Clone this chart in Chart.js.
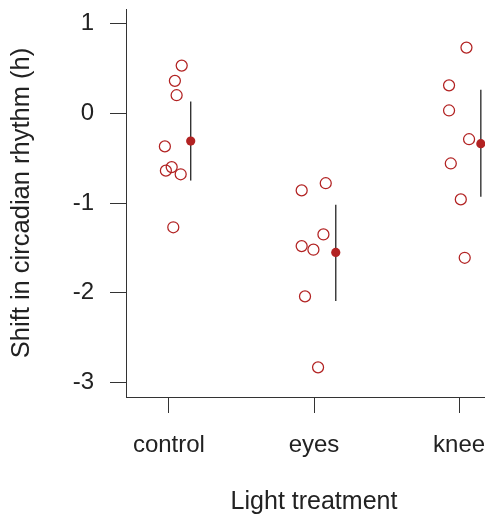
<!DOCTYPE html>
<html>
<head>
<meta charset="utf-8">
<script src="https://cdn.jsdelivr.net/npm/chart.js@4"></script>
<style>
  html, body { margin: 0; padding: 0; background: #fff; overflow: hidden; }
  #wrap { width: 520px; height: 515px; }
</style>
</head>
<body>
<div id="wrap"><canvas id="c" width="520" height="515"></canvas></div>
<script>
// Treatment groups and the measured shifts (hours) for each subject
const categories = ['control', 'eyes', 'knee'];
const controlShift = [0.53, 0.36, 0.20, -0.37, -0.60, -0.64, -0.68, -1.27];
const eyesShift    = [-0.78, -0.86, -1.35, -1.48, -1.52, -2.04, -2.83];
const kneeShift    = [0.73, 0.31, 0.03, -0.29, -0.56, -0.96, -1.61];

// Horizontal jitter applied to each observation (category units)
const controlJitter = [0.088, 0.041, 0.053, -0.028, 0.019, -0.021, 0.081, 0.030];
const eyesJitter    = [0.081, -0.085, 0.065, -0.085, -0.004, -0.062, 0.028];
const kneeJitter    = [0.051, -0.069, -0.069, 0.069, -0.057, 0.012, 0.039];

// Group means with lower / upper interval limits
const groupMean  = [-0.31, -1.55, -0.34];
const groupLower = [-0.75, -2.09, -0.93];
const groupUpper = [0.13, -1.02, 0.26];

const yTicks = [-3, -2, -1, 0, 1];
const xTicks = [1, 2, 3];

const MEAN_OFFSET = 0.15;
const RED = '#b22222';
const INK = '#222';
const AXIS = '#333';

const shifts = [controlShift, eyesShift, kneeShift];
const jitters = [controlJitter, eyesJitter, kneeJitter];

const observations = [];
shifts.forEach((vals, g) => {
  vals.forEach((v, i) => observations.push({ x: g + 1 + jitters[g][i], y: v }));
});

const intervalSets = categories.map((name, g) => ({
  type: 'line',
  label: name + ' interval',
  data: [
    { x: g + 1 + MEAN_OFFSET, y: groupLower[g] },
    { x: g + 1 + MEAN_OFFSET, y: groupUpper[g] }
  ],
  borderColor: AXIS,
  borderWidth: 1.4,
  pointRadius: 0,
  showLine: true,
  fill: false,
  order: 1
}));

const meanPoints = groupMean.map((m, g) => ({ x: g + 1 + MEAN_OFFSET, y: m }));

const tickFont = { family: '"Liberation Sans", Arial, sans-serif', size: 24 };

// Keep the plot frame fixed: no extra room reserved for edge labels
function noEdgePadding(scale) {
  scale.paddingTop = 0;
  scale.paddingBottom = 0;
  scale.paddingLeft = 0;
  scale.paddingRight = 0;
}

new Chart(document.getElementById('c'), {
  type: 'scatter',
  data: {
    datasets: [
      {
        label: 'mean',
        data: meanPoints,
        pointStyle: 'circle',
        pointRadius: 4.6,
        backgroundColor: RED,
        borderColor: RED,
        borderWidth: 0,
        order: 0
      },
      ...intervalSets,
      {
        label: 'observations',
        data: observations,
        pointStyle: 'circle',
        pointRadius: 5.5,
        backgroundColor: 'rgba(0,0,0,0)',
        borderColor: RED,
        borderWidth: 1.25,
        order: 2
      }
    ]
  },
  options: {
    responsive: false,
    animation: false,
    devicePixelRatio: 1,
    layout: { padding: { top: 9, right: 18, bottom: 0, left: 0 } },
    plugins: {
      legend: { display: false },
      tooltip: { enabled: false }
    },
    scales: {
      x: {
        type: 'linear',
        min: 0.704,
        max: 3.296,
        afterBuildTicks: (scale) => { scale.ticks = xTicks.map(v => ({ value: v })); },
        afterFit: (scale) => { scale.height = 118; noEdgePadding(scale); },
        ticks: {
          font: tickFont,
          color: INK,
          padding: 18,
          maxRotation: 0,
          autoSkip: false,
          callback: (v) => categories[v - 1]
        },
        grid: {
          display: true,
          drawOnChartArea: false,
          drawTicks: true,
          tickLength: 16,
          color: AXIS,
          lineWidth: 1
        },
        border: { display: true, color: AXIS, width: 1 },
        title: {
          display: true,
          text: 'Light treatment',
          color: INK,
          font: { family: '"Liberation Sans", Arial, sans-serif', size: 25, lineHeight: 1 },
          padding: { top: 0, bottom: 0 }
        }
      },
      y: {
        type: 'linear',
        min: -3.16,
        max: 1.16,
        afterBuildTicks: (scale) => { scale.ticks = yTicks.map(v => ({ value: v })); },
        afterFit: (scale) => { scale.width = 126; noEdgePadding(scale); },
        ticks: {
          font: tickFont,
          color: INK,
          padding: 16,
          callback: (v) => String(v)
        },
        grid: {
          display: true,
          drawOnChartArea: false,
          drawTicks: true,
          tickLength: 16,
          color: AXIS,
          lineWidth: 1
        },
        border: { display: true, color: AXIS, width: 1 },
        title: {
          display: true,
          text: 'Shift in circadian rhythm (h)',
          color: INK,
          font: { family: '"Liberation Sans", Arial, sans-serif', size: 25.5, lineHeight: 1 },
          padding: { top: 9, bottom: 0 }
        }
      }
    }
  }
});
</script>
</body>
</html>
